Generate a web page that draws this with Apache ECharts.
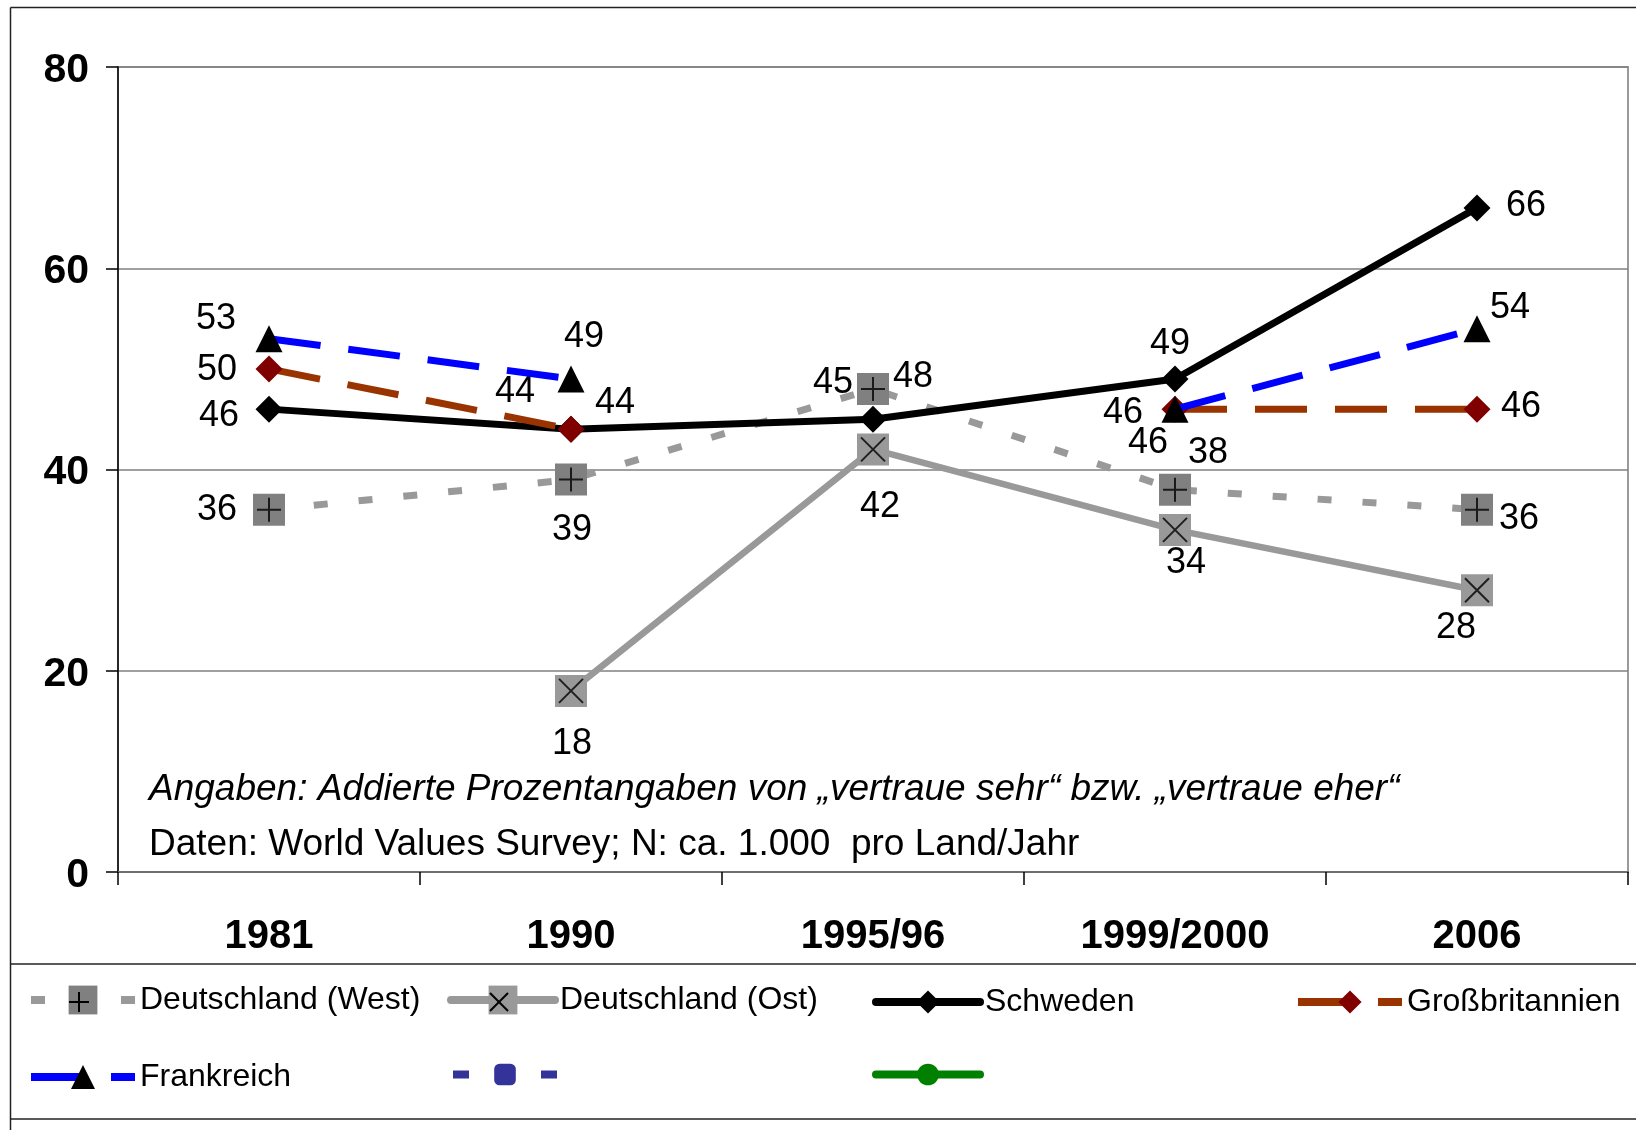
<!DOCTYPE html>
<html>
<head>
<meta charset="utf-8">
<script src="https://cdn.jsdelivr.net/npm/echarts@6/dist/echarts.min.js"></script>
<style>
  html, body { margin: 0; padding: 0; background: #fff; }
  #chart { width: 1636px; height: 1130px; }
</style>
</head>
<body>
<div id="chart"></div>
<script>
// Survey waves on the category axis
const categories = ['1981', '1990', '1995/96', '1999/2000', '2006'];

// Trust values in percent per country and wave (null = no survey)
const westValues       = [36, 39, 48, 38, 36];
const ostValues        = [null, 18, 42, 34, 28];
const schwedenValues   = [46, 44, 45, 49, 66];
const gbValues         = [50, 44, null, 46, 46];
const frankreichValues = [53, 49, null, 46, 54];
const reihe6Values     = [null, null, null, null, null];
const reihe7Values     = [null, null, null, null, null];

// Value-axis ticks
const yMin = 0, yMax = 80, yStep = 20;

// Label placement around each point: [dx, dy] in pixels
const westLabelOffsets       = [[-52, 0], [1, 51], [40, -12], [33, -37], [42, 9]];
const ostLabelOffsets        = [null, [1, 53], [7, 58], [11, 33], [-21, 38]];
const schwedenLabelOffsets   = [[-50, 7], [-56, -37], [-40, -36], [-5, -35], [49, -2]];
const gbLabelOffsets         = [[-52, 1], [44, -26], null, [-52, 4], [44, -2]];
const frankreichLabelOffsets = [[-53, -20], [13, -42], null, [-27, 34], [33, -21]];

const FONT = '"Liberation Sans", Arial, sans-serif';

function withLabels(values, offsets) {
  return values.map((v, i) => v == null ? '-' : { value: v, label: { offset: offsets[i] } });
}
function plain(values) {
  return values.map(v => v == null ? '-' : v);
}

const labelBase = {
  show: true,
  position: 'inside',
  color: '#000',
  fontSize: 36,
  fontFamily: FONT,
  align: 'center',
  verticalAlign: 'middle'
};

const noHover = { disabled: true };

const series = [
  {
    name: 'Deutschland (West)', type: 'line', data: withLabels(westValues, westLabelOffsets),
    symbol: 'rect', symbolSize: 32,
    itemStyle: { color: '#808080' },
    lineStyle: { color: '#999999', width: 7, type: [14, 31] },
    label: labelBase, emphasis: noHover, z: 2
  },
  {
    name: 'Deutschland (Ost)', type: 'line', data: withLabels(ostValues, ostLabelOffsets),
    symbol: 'rect', symbolSize: 32,
    itemStyle: { color: '#999999' },
    lineStyle: { color: '#999999', width: 6.5, cap: 'round' },
    label: labelBase, emphasis: noHover, z: 2
  },
  {
    name: 'Schweden', type: 'line', data: withLabels(schwedenValues, schwedenLabelOffsets),
    symbol: 'diamond', symbolSize: 27,
    itemStyle: { color: '#000000' },
    lineStyle: { color: '#000000', width: 7, cap: 'round' },
    label: labelBase, emphasis: noHover, z: 4
  },
  {
    name: 'Großbritannien', type: 'line', data: withLabels(gbValues, gbLabelOffsets),
    symbol: 'diamond', symbolSize: 27,
    itemStyle: { color: '#800000' },
    lineStyle: { color: '#993300', width: 7, type: [52, 28] },
    label: labelBase, emphasis: noHover, z: 5
  },
  {
    name: 'Frankreich', type: 'line', data: withLabels(frankreichValues, frankreichLabelOffsets),
    symbol: 'triangle', symbolSize: 27,
    itemStyle: { color: '#000000' },
    lineStyle: { color: '#0000FF', width: 7, type: [52, 28] },
    label: labelBase, emphasis: noHover, z: 6
  },
  {
    name: 'Reihe6', type: 'line', data: plain(reihe6Values),
    symbol: 'roundRect', symbolSize: 22,
    itemStyle: { color: '#333399' },
    lineStyle: { color: '#333399', width: 7, type: [16, 28] }
  },
  {
    name: 'Reihe7', type: 'line', data: plain(reihe7Values),
    symbol: 'circle', symbolSize: 22,
    itemStyle: { color: '#008000' },
    lineStyle: { color: '#008000', width: 7, cap: 'round' }
  },
  // Black "+" and "x" drawn on top of the grey square markers
  {
    name: 'westMarker', type: 'scatter', data: plain(westValues),
    symbol: 'path://M0,50 L100,50 M50,0 L50,100', symbolSize: 24,
    itemStyle: { color: 'rgba(0,0,0,0)', borderColor: '#000', borderWidth: 2 },
    silent: true, emphasis: noHover, z: 3
  },
  {
    name: 'ostMarker', type: 'scatter', data: plain(ostValues),
    symbol: 'path://M0,0 L100,100 M100,0 L0,100', symbolSize: 24,
    itemStyle: { color: 'rgba(0,0,0,0)', borderColor: '#000', borderWidth: 2 },
    silent: true, emphasis: noHover, z: 3
  }
];

// Legend: two rows, four fixed columns
const rowCenters = [1002, 1077];
const legendIconWidth = 104;
const legendTextSize = 32;
const legendSlots = [
  { name: 'Deutschland (West)', left: 27,   row: 0, itemHeight: 36, cap: 'butt'  },
  { name: 'Deutschland (Ost)',  left: 447,  row: 0, itemHeight: 36, cap: 'round' },
  { name: 'Schweden',           left: 872,  row: 0, itemHeight: 29, cap: 'round' },
  { name: 'Großbritannien',     left: 1294, row: 0, itemHeight: 29, cap: 'butt'  },
  { name: 'Frankreich',         left: 27,   row: 1, itemHeight: 30, cap: 'butt'  },
  { name: 'Reihe6',             left: 449,  row: 1, itemHeight: 27, cap: 'butt'  },
  { name: 'Reihe7',             left: 872,  row: 1, itemHeight: 27, cap: 'round' }
];

const legends = legendSlots.map(s => ({
  data: [s.name],
  left: s.left,
  top: rowCenters[s.row] - Math.max(s.itemHeight, legendTextSize) / 2,
  padding: 0,
  itemWidth: legendIconWidth,
  itemHeight: s.itemHeight,
  selectedMode: false,
  lineStyle: { width: 8, cap: s.cap },
  textStyle: { fontSize: legendTextSize, fontFamily: FONT, color: '#000' },
  formatter: name => name.startsWith('Reihe') ? '' : name
}));

// Cross glyphs for the two legend squares
function crossGlyph(cx, cy, r, diagonal) {
  const st = { stroke: '#000', lineWidth: 2 };
  return diagonal
    ? [
        { type: 'line', shape: { x1: cx - r, y1: cy - r, x2: cx + r, y2: cy + r }, style: st, z: 100 },
        { type: 'line', shape: { x1: cx + r, y1: cy - r, x2: cx - r, y2: cy + r }, style: st, z: 100 }
      ]
    : [
        { type: 'line', shape: { x1: cx - r, y1: cy, x2: cx + r, y2: cy }, style: st, z: 100 },
        { type: 'line', shape: { x1: cx, y1: cy - r, x2: cx, y2: cy + r }, style: st, z: 100 }
      ];
}
const westSlot = legendSlots[0], ostSlot = legendSlots[1];

const frameStyle = { stroke: '#222', lineWidth: 1.5 };
const graphics = [
  // outer frame and legend separators
  { type: 'line', shape: { x1: 10.5, y1: 7.5, x2: 1636, y2: 7.5 }, style: frameStyle },
  { type: 'line', shape: { x1: 10.5, y1: 7.5, x2: 10.5, y2: 1130 }, style: frameStyle },
  { type: 'line', shape: { x1: 10.5, y1: 964, x2: 1636, y2: 964 }, style: frameStyle },
  { type: 'line', shape: { x1: 10.5, y1: 1119, x2: 1636, y2: 1119 }, style: frameStyle },
  // notes inside the plot area
  {
    type: 'text', left: 149, top: 771, z: 50,
    style: {
      text: 'Angaben: Addierte Prozentangaben von „vertraue sehr“ bzw. „vertraue eher“',
      font: 'italic 37px ' + FONT, fill: '#000'
    }
  },
  {
    type: 'text', left: 149, top: 826, z: 50,
    style: {
      text: 'Daten: World Values Survey; N: ca. 1.000  pro Land/Jahr',
      font: '37px ' + FONT, fill: '#000'
    }
  },
  ...crossGlyph(westSlot.left + legendIconWidth / 2, rowCenters[0], 10, false),
  ...crossGlyph(ostSlot.left + legendIconWidth / 2, rowCenters[0], 9, true)
];

const chart = echarts.init(document.getElementById('chart'), null, { renderer: 'canvas' });
chart.setOption({
  animation: false,
  backgroundColor: '#ffffff',
  grid: {
    left: 118, right: 8, top: 67, bottom: 258,
    show: true, borderColor: '#9a9a9a', borderWidth: 2, backgroundColor: 'transparent'
  },
  xAxis: {
    type: 'category',
    data: categories,
    boundaryGap: true,
    axisLine: { show: true, lineStyle: { color: '#6e6e6e', width: 2 } },
    axisTick: { show: true, length: 13, lineStyle: { color: '#000', width: 1.5 } },
    axisLabel: { margin: 45, fontSize: 40, fontWeight: 'bold', fontFamily: FONT, color: '#000' },
    splitLine: { show: false }
  },
  yAxis: {
    type: 'value',
    min: yMin, max: yMax, interval: yStep,
    axisLine: { show: true, lineStyle: { color: '#000', width: 1.5 } },
    axisTick: { show: true, length: 12, lineStyle: { color: '#000', width: 1.5 } },
    axisLabel: {
      margin: 29, color: '#000',
      formatter: '{v|{value}}',
      rich: { v: { fontSize: 41, fontWeight: 'bold', fontFamily: FONT, color: '#000', padding: [7, 0, 0, 0] } }
    },
    splitLine: { show: true, lineStyle: { color: '#808080', width: 1.5 } }
  },
  legend: legends,
  tooltip: { show: false },
  series: series,
  graphic: graphics
});
</script>
</body>
</html>
